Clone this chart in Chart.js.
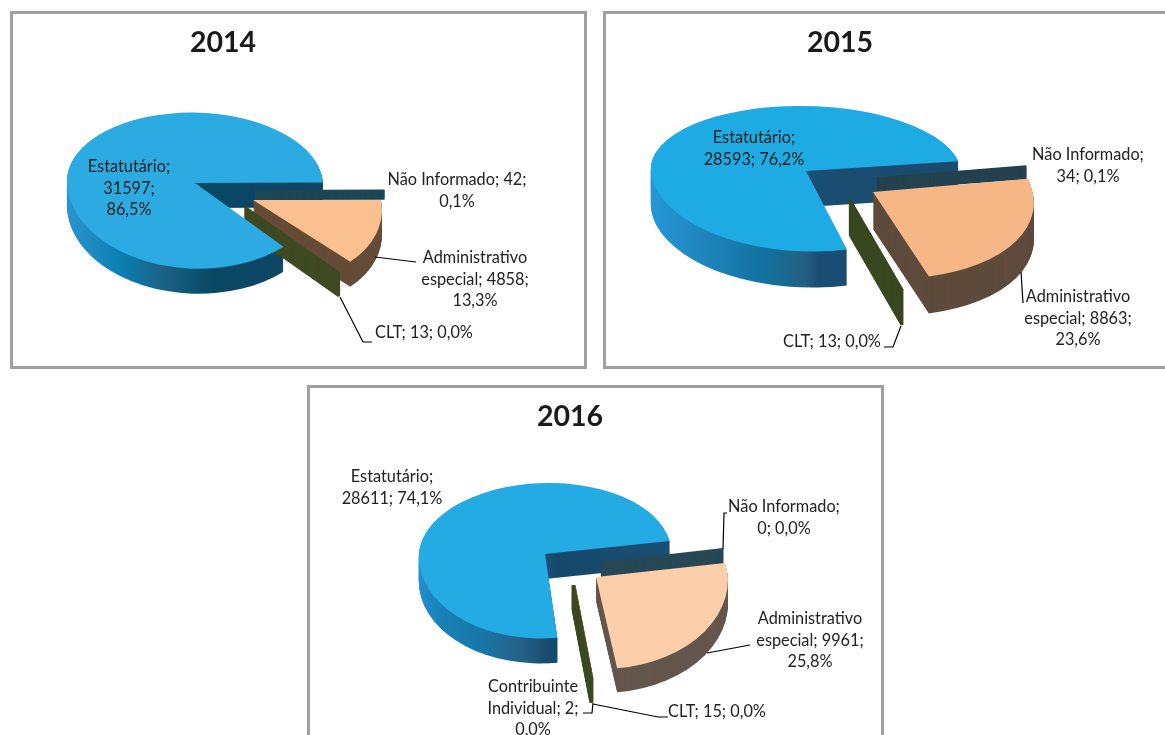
<!DOCTYPE html>
<html lang="pt">
<head>
<meta charset="utf-8">
<title>Vínculos 2014-2016</title>
<script src="https://cdn.jsdelivr.net/npm/chart.js@4"></script>
<style>
html,body{margin:0;padding:0;background:#fff;width:1165px;height:735px;overflow:hidden}
.panel{position:absolute;box-sizing:border-box;border:3px solid #a0a0a0;background:#fff}
canvas{position:absolute;left:0;top:0}
</style>
</head>
<body>
<script>
// ---- data ----
const categories2014 = ["Estatutário", "Não Informado", "Administrativo especial", "CLT"];
const values2014 = [31597, 42, 4858, 13];
const percents2014 = ["86,5%", "0,1%", "13,3%", "0,0%"];

const categories2015 = ["Estatutário", "Não Informado", "Administrativo especial", "CLT"];
const values2015 = [28593, 34, 8863, 13];
const percents2015 = ["76,2%", "0,1%", "23,6%", "0,0%"];

const categories2016 = ["Estatutário", "Não Informado", "Administrativo especial", "CLT", "Contribuinte Individual"];
const values2016 = [28611, 0, 9961, 15, 2];
const percents2016 = ["74,1%", "0,0%", "25,8%", "0,0%", "0,0%"];

// ---- layout and style (page pixels) ----
const TEXT = "#222222";
const panels = [
 { year:"2014", cats:categories2014, vals:values2014, pcts:percents2014,
   box:[10,11,577,358], titleAt:[223,43], apex:[195,183], radius:128, rotation:138, order:[1,2,3],
   top:["#2BABE2","#1F4655","#FBC08F","#3F4A22"],
   side:[[[0,"#2A94CE"],[.2,"#0A7FB0"],[.35,"#1B6488"],[.55,"#084865"],[1,"#0F4563"]],"#1F4655","#654C37","#3F4A22"],
   geo:[{dx:0,dy:0,ku:.55,kd:.67,skew:.03,depth:25},{dx:60,dy:8,ku:.6,kd:.6,depth:8},{dx:58,dy:17,ku:.6,kd:.65,skew:.12,depth:25},{dx:50,dy:24,ku:.6,kd:.69,skew:.06,sx:1.02,depth:23}],
   labels:[{at:[129,167],lines:["{c};","{v};","{p}"]},{at:[457,180],lines:["{c}; {v};","{p}"]},{at:[475,258],lines:["Administrativo","especial; {v};","{p}"]},{at:[424,333],lines:["{c}; {v}; {p}"]}],
   leaders:[[[375,257],[416,262]],[[340,297],[363,342],[372,342]]] },
 { year:"2015", cats:categories2015, vals:values2015, pcts:percents2015,
   box:[603,11,575,358], titleAt:[840,43], apex:[807,171], radius:155, rotation:167, order:[1,3,2],
   top:["#1EAAE2","#24414F","#F7B686","#39471F"],
   side:[[[0,"#2596D6"],[.15,"#1F86BD"],[.35,"#12719F"],[.48,"#235F80"],[.52,"#1A4E72"],[1,"#1A4A6C"]],"#24414F","#5E4B3C","#39471F"],
   geo:[{dx:-1,dy:0,ku:.42,kd:.52,skew:.04,depth:36},{dx:70,dy:7,ku:.52,kd:.5,sx:.965,depth:12},{dx:66,dy:21,ku:.6,kd:.56,sx:1.03,skew:.13,depth:37},{dx:43,dy:29,ku:.5,kd:.59,skew:.11,depth:35}],
   labels:[{at:[754,138],lines:["{c};","{v}; {p}"]},{at:[1088,155],lines:["{c};","{v}; {p}"]},{at:[1078,297],lines:["Administrativo","especial; {v};","{p}"]},{at:[832,342],lines:["{c}; {v}; {p}"]}],
   leaders:[[[1021,272],[1023,303]],[[901,326],[893,347],[884,347]]] },
 { year:"2016", cats:categories2016, vals:values2016, pcts:percents2016,
   box:[307,385,577,360], titleAt:[570,417], apex:[546,554], radius:128, rotation:172.6, order:[1,2,4,3],
   top:["#25ABE3","#274956","#FCCFAA","#3A4A20","#7A4B3A"],
   side:[[[0,"#2590D0"],[.1,"#1880B5"],[.26,"#1878A8"],[.43,"#255F85"],[.55,"#15486B"],[1,"#1A4F74"]],"#274956","#64564C","#3A4A20","#7A4B3A"],
   geo:[{dx:-1,dy:0,ku:.555,kd:.66,sx:.985,skew:-.03,depth:25},{dx:55,dy:9,ku:.6,kd:.6,sx:.96,depth:14},{dx:50,dy:23,ku:.6,kd:.72,sx:1.03,skew:.03,depth:24},{dx:27,dy:31,ku:.6,kd:.73,skew:.01,depth:24},{dx:28,dy:31,ku:.6,kd:.73,skew:.01,depth:24}],
   labels:[{at:[392,477],lines:["{c};","{v}; {p}"]},{at:[784,507],lines:["{c};","{v}; {p}"]},{at:[810,619],lines:["Administrativo","especial; {v};","{p}"]},{at:[717,712],lines:["{c}; {v}; {p}"]},{at:[533,687],lines:["Contribuinte","Individual; {v};","{p}"]}],
   leaders:[[[727,513],[724,513],[723,549]],[[707,653],[750,645]],[[593,704],[658,717],[668,717]],[[593,703],[592,713],[583,713]]] }
];
const LABEL_FONT = "16.3px Lato";
const LINE_H = 21.5;
const MIN_ANGLE = 0.12 * Math.PI / 180;
const SLIVER = 1 * Math.PI / 180;

function pseudo3d(p) {
  const [bx, by] = p.box;
  function paint(chart, arc, s, fill, d) {
    const ctx = chart.ctx, W = chart.width, H = chart.height;
    const Ax = p.apex[0] - bx + (s.dx || 0);
    const Y = Math.round(p.apex[1] - by + (s.dy || 0) + d);
    const saved = arc.options, sEnd = arc.endAngle, sCirc = arc.circumference;
    const thin = sCirc < SLIVER;
    if (sCirc < MIN_ANGLE) { arc.circumference = MIN_ANGLE; arc.endAngle = arc.startAngle + MIN_ANGLE; }
    arc.options = { backgroundColor: fill, borderColor: fill, borderWidth: thin ? 3 : 0, offset: 0, spacing: 0,
      circular: true, borderAlign: "center", borderRadius: 0, borderJoinStyle: "miter", borderDash: [], borderDashOffset: 0 };
    for (const upper of [true, false]) {
      ctx.save();
      ctx.beginPath();
      if (upper) ctx.rect(0, 0, W, Y); else ctx.rect(0, Y, W, H - Y);
      ctx.clip();
      ctx.transform(s.sx || 1, 0, s.skew || 0, upper ? s.ku : s.kd, Ax, Y);
      ctx.translate(-arc.x, -arc.y);
      arc.draw(ctx);
      ctx.restore();
    }
    arc.options = saved; arc.endAngle = sEnd; arc.circumference = sCirc;
  }
  function sideFill(chart, arc, i) {
    const c = p.side[i];
    if (typeof c === "string") return c;
    const g = chart.ctx.createLinearGradient(arc.x - p.radius, 0, arc.x + p.radius, 0);
    c.forEach(([o, col]) => g.addColorStop(o, col));
    return g;
  }
  function sides(chart, arcs, i) {
    const f = sideFill(chart, arcs[i], i);
    for (let d = p.geo[i].depth; d >= 1; d--) paint(chart, arcs[i], p.geo[i], f, d);
  }
  return {
    id: "pseudo3d",
    beforeDatasetDraw() { return false; },
    afterDatasetsDraw(chart) {
      const arcs = chart.getDatasetMeta(0).data;
      sides(chart, arcs, 0);
      for (const i of p.order) {
        sides(chart, arcs, i);
        paint(chart, arcs[i], p.geo[i], p.top[i], 0);
      }
      paint(chart, arcs[0], p.geo[0], p.top[0], 0);
      const ctx = chart.ctx;
      ctx.save();
      ctx.strokeStyle = "#000"; ctx.lineWidth = 1.2;
      for (const l of p.leaders) {
        ctx.beginPath();
        l.forEach(([x, y], n) => n ? ctx.lineTo(x - bx, y - by) : ctx.moveTo(x - bx, y - by));
        ctx.stroke();
      }
      ctx.font = LABEL_FONT; ctx.fillStyle = TEXT; ctx.textAlign = "center"; ctx.textBaseline = "middle";
      p.labels.forEach((lab, i) => {
        lab.lines.forEach((t, n) => {
          const s = t.replace("{c}", p.cats[i]).replace("{v}", p.vals[i]).replace("{p}", p.pcts[i]);
          ctx.fillText(s, lab.at[0] - bx, lab.at[1] - by + n * LINE_H);
        });
      });
      ctx.restore();
    }
  };
}

for (const p of panels) {
  const [x, y, w, h] = p.box;
  const div = document.createElement("div");
  div.className = "panel";
  div.style.cssText = `left:${x}px;top:${y}px;width:${w}px;height:${h}px`;
  const cv = document.createElement("canvas");
  cv.width = w; cv.height = h;
  cv.style.cssText = `left:-3px;top:-3px;width:${w}px;height:${h}px`;
  div.appendChild(cv);
  document.body.appendChild(div);
  const tx = p.titleAt[0] - x, TITLE = 28.5;
  new Chart(cv.getContext("2d"), {
    type: "pie",
    data: { labels: p.cats, datasets: [{ data: p.vals, backgroundColor: p.top, borderWidth: 0, offset: 0 }] },
    options: {
      responsive: false, animation: false, devicePixelRatio: 1,
      rotation: p.rotation, radius: p.radius,
      layout: { padding: { left: Math.max(0, 2 * tx - w), right: Math.max(0, w - 2 * tx), top: 0, bottom: 0 } },
      plugins: {
        legend: { display: false }, tooltip: { enabled: false },
        title: { display: true, text: p.year, fullSize: false, color: "#1a1a1a",
          font: { family: "Lato", size: TITLE, weight: "bold", lineHeight: 1.2 },
          padding: { top: p.titleAt[1] - y - TITLE * 0.6, bottom: 0 } }
      },
      events: []
    },
    plugins: [pseudo3d(p)]
  });
}
</script>
</body>
</html>
